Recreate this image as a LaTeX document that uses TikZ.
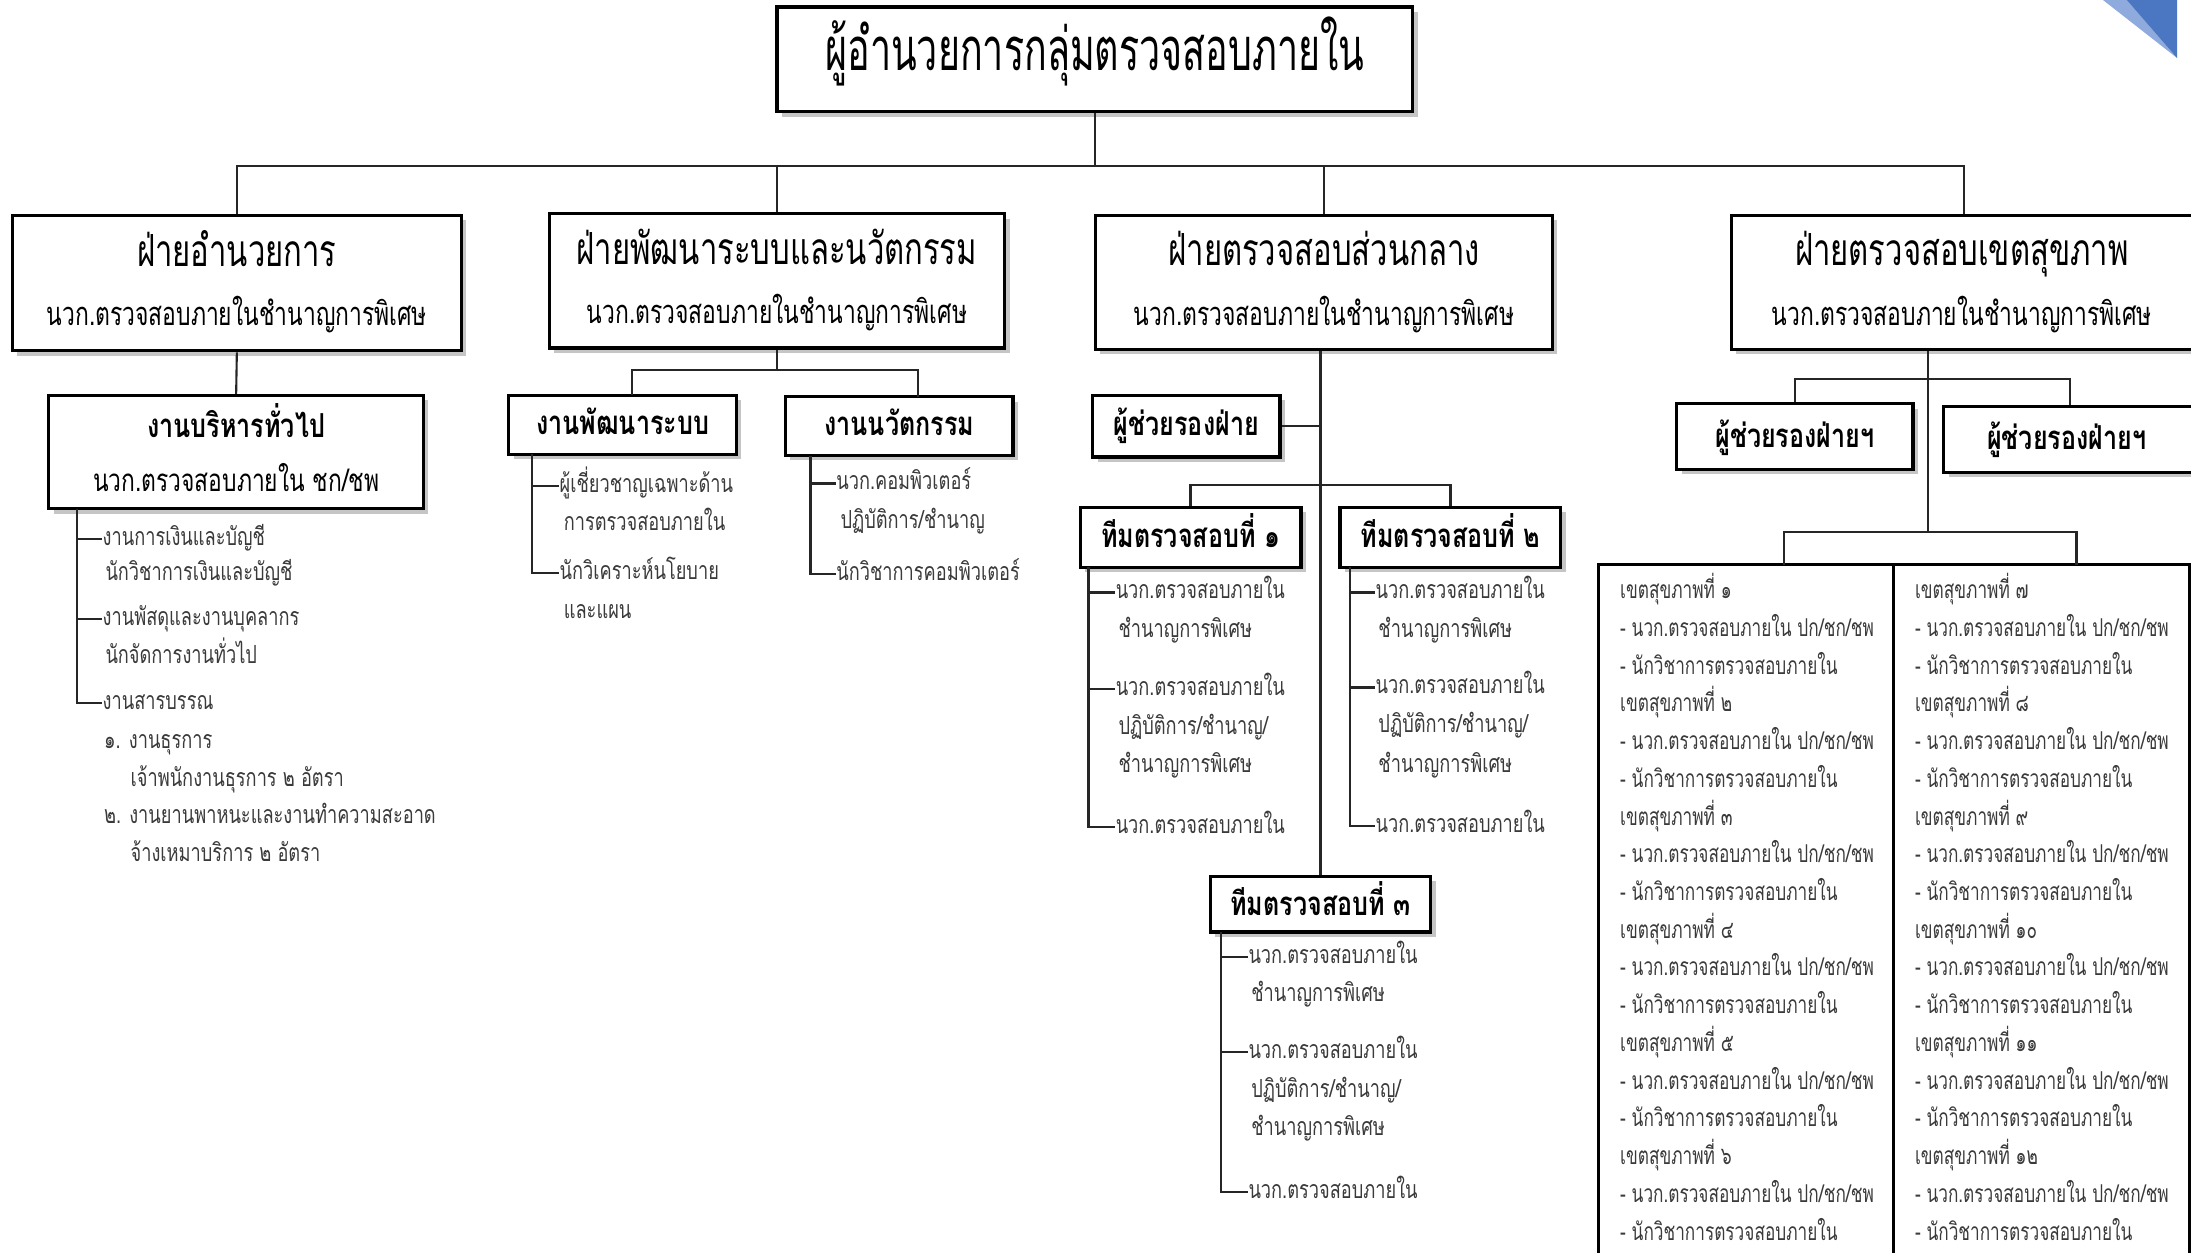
\documentclass[tikz,border=0pt]{standalone}
\usepackage{fontspec}
\newfontfamily\fT[Script=Thai,FakeStretch=0.63]{Loma}
\newfontfamily\fH[Script=Thai,FakeStretch=0.7]{Loma}
\newfontfamily\fB[Script=Thai,FakeStretch=0.76]{Loma}
\newfontfamily\fL[Script=Thai,FakeStretch=0.73]{Loma}
\usetikzlibrary{shadows}
\definecolor{txt}{HTML}{3A3A3A}
\definecolor{triA}{HTML}{8FAADC}
\definecolor{triB}{HTML}{4A76C2}
\tikzset{
  wh/.style 2 args={minimum width={#1*0.013973cm}, minimum height={#2*0.013973cm}},
  box/.style={draw=black, line width=0.9pt, fill=white, inner sep=0pt,
    drop shadow={shadow xshift=1.4pt, shadow yshift=-1.4pt, fill=black!45, opacity=0.5}},
  tabcell/.style={draw=black, line width=0.8pt, inner sep=0pt},
  conn/.style={line width=0.6pt, draw=black!85},
  hone/.style={inner sep=0pt, font=\fT\fontsize{17}{20}\selectfont, text height=10.2pt, text depth=1.7pt},
  htwo/.style={inner sep=0pt, font=\fH\fontsize{12.6}{15}\selectfont, text height=7.6pt, text depth=1.3pt},
  htwos/.style={inner sep=0pt, font=\fH\fontsize{9.3}{11}\selectfont, text height=5.6pt, text depth=1pt},
  hthree/.style={inner sep=0pt, font=\fB\bfseries\fontsize{9.4}{11}\selectfont, text height=5.6pt, text depth=0.9pt},
  hthrees/.style={inner sep=0pt, font=\fL\fontsize{8.9}{11}\selectfont, text height=5.3pt, text depth=0.9pt},
  item/.style={anchor=west, inner sep=0pt, text=txt, font=\fL\fontsize{7.1}{9}\selectfont, text height=4.3pt, text depth=0.7pt},
  cell/.style={anchor=west, inner sep=0pt, text=txt, font=\fH\fontsize{7}{9}\selectfont, text height=4.2pt, text depth=0.7pt},
}
\begin{document}
\begin{tikzpicture}[x=0.013973cm, y=-0.013973cm]
\useasboundingbox (0,0) rectangle (1568,896);
\clip (0,0) rectangle (1568,896);

% corner decoration
\fill[triA] (1505,0) -- (1558,41.5) -- (1522,0) -- cycle;
\fill[triB] (1522,0) -- (1558,41.5) -- (1558,0) -- cycle;

% ---------- top ----------
\node[box, wh={455}{75}] (T) at (783.5,42.5) {};
\node[hone] (Tt) at (783.5,40) {ผู้อำนวยการกลุ่มตรวจสอบภายใน};

% ---------- level 2 ----------
\node[box, wh={321}{97}] (A) at (169.5,202.5) {};
\node[htwo] (At) at (169.5,183) {ฝ่ายอำนวยการ};
\node[htwos] (As) at (169.5,227) {นวก.ตรวจสอบภายในชำนาญการพิเศษ};

\node[box, wh={326}{96}] (B) at (556,201) {};
\node[htwo] (Bt) at (556,181) {ฝ่ายพัฒนาระบบและนวัตกรรม};
\node[htwos] (Bs) at (556,226) {นวก.ตรวจสอบภายในชำนาญการพิเศษ};

\node[box, wh={327}{96}] (C) at (947.5,202) {};
\node[htwo] (Ct) at (947.5,182) {ฝ่ายตรวจสอบส่วนกลาง};
\node[htwos] (Cs) at (947.5,227) {นวก.ตรวจสอบภายในชำนาญการพิเศษ};

\node[box, wh={333}{96}] (D) at (1405.5,202) {};
\node[htwo] (Dt) at (1404,182) {ฝ่ายตรวจสอบเขตสุขภาพ};
\node[htwos] (Ds) at (1404,227) {นวก.ตรวจสอบภายในชำนาญการพิเศษ};

\coordinate (busA) at (0,119);
\draw[conn] (T.south) -- (T.south |- busA);
\foreach \n in {A,B,C,D} \draw[conn] (T.south |- busA) -| (\n.north);

% ---------- ฝ่ายอำนวยการ ----------
\node[box, wh={268}{81}] (GA) at (169,323.5) {};
\node[hthree] (GAt) at (169,307) {งานบริหารทั่วไป};
\node[hthrees] (GAs) at (169,346) {นวก.ตรวจสอบภายใน ชก/ชพ};
\draw[conn] (A.south) -- (GA.north);

\node[item] (la1) at (73,386) {งานการเงินและบัญชี};
\node[item] (la1b) at (75,411) {นักวิชาการเงินและบัญชี};
\node[item] (la2) at (73,443) {งานพัสดุและงานบุคลากร};
\node[item] (la2b) at (75,470) {นักจัดการงานทั่วไป};
\node[item] (la3) at (73,503) {งานสารบรรณ};
\node[item] (la4) at (74,531) {๑. งานธุรการ};
\node[item] (la4b) at (93,558) {เจ้าพนักงานธุรการ ๒ อัตรา};
\node[item] (la5) at (74,585) {๒. งานยานพาหนะและงานทำความสะอาด};
\node[item] (la5b) at (93,612) {จ้างเหมาบริการ ๒ อัตรา};
\coordinate (gav) at (55,364);
\foreach \n in {la1,la2,la3} \draw[conn] (gav) |- (\n.west);

% ---------- ฝ่ายพัฒนาระบบและนวัตกรรม ----------
\node[box, wh={163}{42}] (B1) at (445.5,304) {};
\node[hthree] (B1t) at (445.5,305) {งานพัฒนาระบบ};
\node[box, wh={163}{42}] (B2) at (643.5,305) {};
\node[hthree] (B2t) at (643.5,306) {งานนวัตกรรม};
\coordinate (busB) at (0,265);
\coordinate (bj1) at (452,283);
\coordinate (bj2) at (657,284);
\draw[conn] (B.south) -- (B.south |- busB);
\draw[conn] (bj1) |- (B.south |- busB);
\draw[conn] (bj2) |- (B.south |- busB);

\node[item] (lb1) at (400,348) {ผู้เชี่ยวชาญเฉพาะด้าน};
\node[item] (lb1b) at (403,375) {การตรวจสอบภายใน};
\node[item] (lb2) at (400,410) {นักวิเคราะห์นโยบาย};
\node[item] (lb2b) at (403,438) {และแผน};
\coordinate (b1v) at (381,325);
\foreach \n in {lb1,lb2} \draw[conn] (b1v) |- (\n.west);

\node[item] (lc1) at (598,346) {นวก.คอมพิวเตอร์};
\node[item] (lc1b) at (601,374) {ปฏิบัติการ/ชำนาญ};
\node[item] (lc2) at (598,411) {นักวิชาการคอมพิวเตอร์};
\coordinate (b2v) at (580,326);
\foreach \n in {lc1,lc2} \draw[conn] (b2v) |- (\n.west);

% ---------- ฝ่ายตรวจสอบส่วนกลาง ----------
\node[box, wh={134}{44}] (CA) at (849,305) {};
\node[hthree] (CAt) at (849,306) {ผู้ช่วยรองฝ่าย};
\node[box, wh={158}{43}] (C1) at (852,384.5) {};
\node[hthree] (C1t) at (852,386) {ทีมตรวจสอบที่ ๑};
\node[box, wh={158}{43}] (C2) at (1038,384.5) {};
\node[hthree] (C2t) at (1038,386) {ทีมตรวจสอบที่ ๒};
\node[box, wh={158}{40}] (C3) at (945,647) {};
\node[hthree] (C3t) at (945,649) {ทีมตรวจสอบที่ ๓};

\draw[conn] (C.south -| C3.north) -- (C3.north);
\draw[conn] (CA.east) -- (CA.east -| C3.north);
\coordinate (busC) at (0,347);
\draw[conn] (C1.north) |- (C2.north |- busC) -- (C2.north);

\foreach \tm/\vx/\tx/\ya/\yb/\yc/\yd/\ye/\yf in
  {p/779/800/424/452/493/521/548/592, q/966/986/424/452/492/520/548/591, r/874/895/685/712/753/781/808/853}{
  \node[item] (\tm1) at (\tx-2,\ya) {นวก.ตรวจสอบภายใน};
  \node[item] (\tm2) at (\tx,\yb) {ชำนาญการพิเศษ};
  \node[item] (\tm3) at (\tx-2,\yc) {นวก.ตรวจสอบภายใน};
  \node[item] (\tm4) at (\tx,\yd) {ปฏิบัติการ/ชำนาญ/};
  \node[item] (\tm5) at (\tx,\ye) {ชำนาญการพิเศษ};
  \node[item] (\tm6) at (\tx-2,\yf) {นวก.ตรวจสอบภายใน};
}
\coordinate (c1v) at (779,406);
\coordinate (c2v) at (966,406);
\coordinate (c3v) at (874,667);
\foreach \n in {p1,p3,p6} \draw[conn] (c1v) |- (\n.west);
\foreach \n in {q1,q3,q6} \draw[conn] (c2v) |- (\n.west);
\foreach \n in {r1,r3,r6} \draw[conn] (c3v) |- (\n.west);

% ---------- ฝ่ายตรวจสอบเขตสุขภาพ ----------
\node[box, wh={169}{47}] (DA1) at (1284.5,312.5) {};
\node[hthree] (DA1t) at (1284.5,314) {ผู้ช่วยรองฝ่ายฯ};
\node[box, wh={181}{47}] (DA2) at (1481.5,314.5) {};
\node[hthree] (DA2t) at (1479,316) {ผู้ช่วยรองฝ่ายฯ};

\node[tabcell, wh={211}{530}] (TL) at (1249.5,669) {};
\node[tabcell, wh={212}{530}] (TR) at (1461,669) {};

\coordinate (dv) at (1380,0);
\coordinate (busD) at (0,271);
\coordinate (busE) at (0,381);
\coordinate (tjl) at (1277,404);
\coordinate (tjr) at (1486,404);
\draw[conn] (D.south -| dv) -- (dv |- busE);
\draw[conn] (DA1.north) |- (DA2.north |- busD) -- (DA2.north);
\draw[conn] (tjl) |- (tjr |- busE) -- (tjr);

\foreach \z [count=\r from 0] in {๑,๒,๓,๔,๕,๖}{
  \node[cell] (L\r a) at (1159,{424+81*\r}) {เขตสุขภาพที่ \z};
  \node[cell] (L\r b) at (1159,{451+81*\r}) {- นวก.ตรวจสอบภายใน ปก/ชก/ชพ};
  \node[cell] (L\r c) at (1159,{478+81*\r}) {- นักวิชาการตรวจสอบภายใน};
}
\foreach \z [count=\r from 0] in {๗,๘,๙,๑๐,๑๑,๑๒}{
  \node[cell] (R\r a) at (1370,{424+81*\r}) {เขตสุขภาพที่ \z};
  \node[cell] (R\r b) at (1370,{451+81*\r}) {- นวก.ตรวจสอบภายใน ปก/ชก/ชพ};
  \node[cell] (R\r c) at (1370,{478+81*\r}) {- นักวิชาการตรวจสอบภายใน};
}
\end{tikzpicture}
\end{document}
